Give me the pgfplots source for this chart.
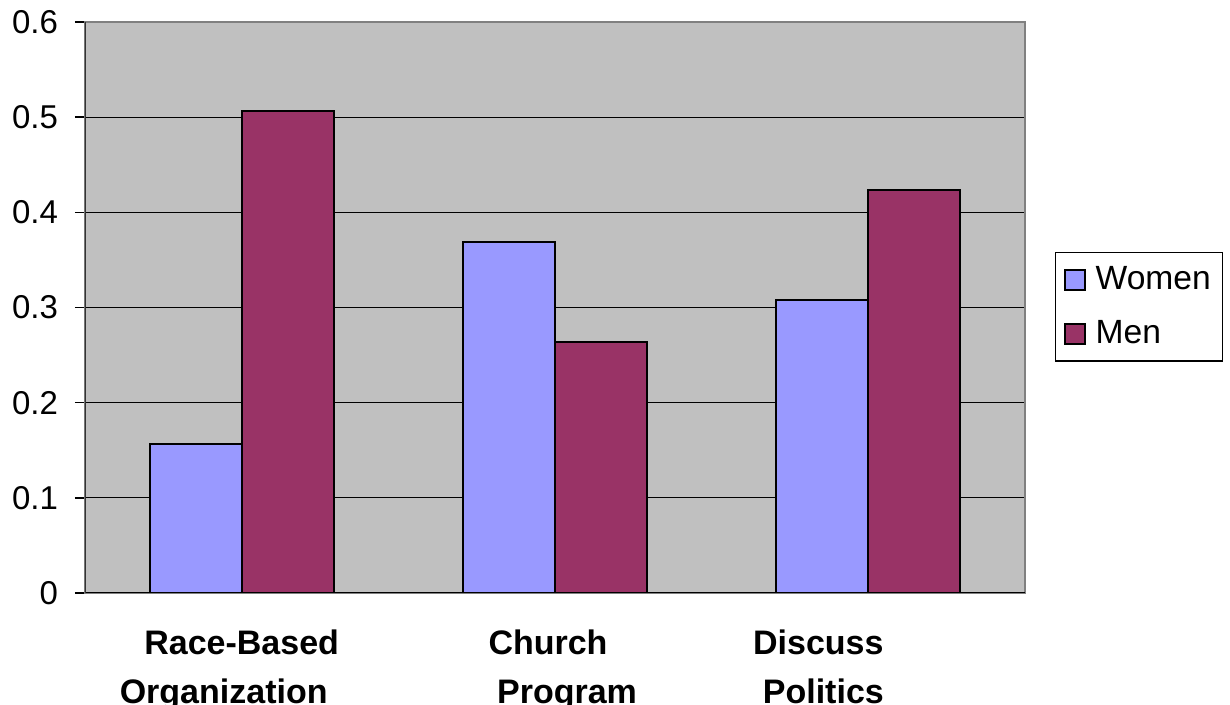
\documentclass[border=0pt]{standalone}
\usepackage{pgfplots}
\pgfplotsset{compat=1.18}
\usepackage{fontspec}
\setmainfont{Liberation Sans}

\definecolor{women}{HTML}{9999FF}
\definecolor{men}{HTML}{993366}
\definecolor{plotbg}{HTML}{C0C0C0}
\definecolor{frame}{HTML}{808080}

% centre a label line, moved sideways by half of #1
\newcommand{\lab}[2]{\makebox[0pt]{\hspace*{#1}#2}}

\begin{document}
\begin{tikzpicture}
\begin{axis}[
  name=ax,
  scale only axis,
  width=470pt, height=285.5pt,
  ybar=0pt, bar width=46pt,
  xmin=-0.5, xmax=2.5,
  ymin=0, ymax=0.6,
  xtick={0,1,2},
  xticklabels={
    {\lab{0pt}{Race-Based}\\\lab{-18pt}{Organization}},
    {\lab{-7pt}{Church}\\\lab{12pt}{Program}},
    {\lab{-50pt}{Discuss}\\\lab{-45pt}{Politics}}},
  xticklabel style={font=\bfseries\fontsize{17}{24.5}\selectfont, align=center, yshift=-10pt},
  xtick style={draw=none},
  ytick={0,0.1,0.2,0.3,0.4,0.5,0.6},
  ytick pos=left,
  yticklabel style={font=\fontsize{16.5}{20}\selectfont, xshift=-5pt,
    /pgf/number format/fixed, /pgf/number format/assume math mode=true},
  tick align=outside, major tick length=5pt,
  ytick style={black, line width=0.8pt},
  ymajorgrids,
  grid style={black, line width=0.6pt},
  axis line style={draw=frame, line width=1.2pt},
  axis background/.style={fill=plotbg},
  legend style={
    at={(rel axis cs:1.032,0.597)}, anchor=north west,
    draw=black, line width=0.6pt,
    font=\fontsize{16.8}{20}\selectfont,
    inner xsep=4pt, inner ysep=5pt, row sep=10pt,
    legend cell align=left},
  legend image code/.code={\draw[#1, line width=1pt] (0pt,-5pt) rectangle (10pt,5pt);},
]
\addplot[fill=women, draw=black, line width=1pt] coordinates {(0,0.157) (1,0.369) (2,0.308)};
\addplot[fill=men, draw=black, line width=1pt] coordinates {(0,0.506) (1,0.264) (2,0.423)};
\legend{\hspace{3pt}Women, \hspace{3pt}Men}
\draw[black, line width=1pt] (rel axis cs:0,0) -- (rel axis cs:1,0);
\draw[black!80, line width=1pt] (rel axis cs:0,0) -- (rel axis cs:0,1);
\end{axis}
\pgfresetboundingbox
\path ([shift={(-42.5pt,-56pt)}]ax.south west) rectangle ++(615pt,352.5pt);
\end{tikzpicture}
\end{document}
